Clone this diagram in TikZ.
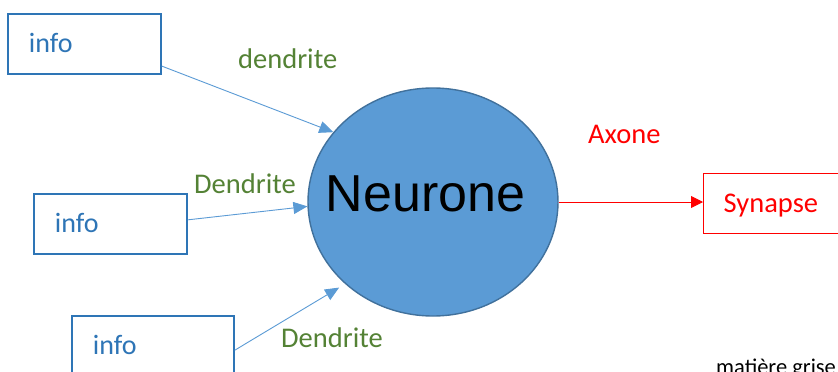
\documentclass[tikz,border=0pt]{standalone}
\usepackage{fontspec}
\setmainfont{Carlito}
\newfontfamily\arialfont{Liberation Sans}
\usetikzlibrary{arrows.meta,shapes.geometric}
\definecolor{boxblue}{RGB}{46,117,182}
\definecolor{arrowblue}{RGB}{91,155,213}
\definecolor{cellfill}{RGB}{91,155,213}
\definecolor{cellline}{RGB}{65,113,156}
\definecolor{dgreen}{RGB}{84,130,53}
\definecolor{myred}{RGB}{255,0,0}
\tikzset{
  infobox/.style={draw=boxblue, line width=1.8pt, anchor=north west, minimum height=60pt,
    inner xsep=21pt, inner ysep=0pt, align=left, text=boxblue, text height=22pt, text depth=4pt,
    font=\fontsize{28}{30}\selectfont},
  synbox/.style={draw=myred, line width=1.4pt, anchor=north west, minimum height=60pt,
    inner xsep=20pt, inner ysep=0pt, align=left, text=myred, text height=22pt, text depth=4pt,
    font=\fontsize{28.5}{30}\selectfont},
  neuron/.style={ellipse, draw=cellline, line width=1.4pt, fill=cellfill, minimum width=250pt, minimum height=228pt, inner sep=0pt},
  dend/.style={draw=arrowblue, line width=0.9pt, -{Triangle[length=14pt,width=12pt]}},
  axon/.style={draw=myred, line width=0.9pt, -{Triangle[length=12pt,width=12pt]}},
  glabel/.style={text=dgreen, anchor=base west, inner sep=0pt, font=\fontsize{28.5}{30}\selectfont},
  rlabel/.style={text=myred, anchor=base west, inner sep=0pt, font=\fontsize{28.5}{30}\selectfont},
}
\begin{document}
\begin{tikzpicture}[x=1pt,y=-1pt]
\clip (0,0) rectangle (838,372);
\fill[white] (0,0) rectangle (838,372);
% neuron
\node[neuron] (n) at (433,202) {};
\node[anchor=base, inner sep=0pt, font=\arialfont\fontsize{52}{56}\selectfont] (nt) at (425.5,211) {Neurone};
% info boxes
\node[infobox, text width=111pt] (b1) at (7,13) {info};
\node[infobox, text width=111pt] (b2) at (33,193) {info};
\node[infobox, text width=120pt] (b3) at (71,315) {info};
% synapse
\node[synbox, text width=99pt] (s) at (703,173) {Synapse};
% arrows
\draw[dend] (b1.-16.7) -- (n.145);
\draw[dend] (b2.3) -- (n.182);
\draw[dend, shorten >=7pt] (b3.-3) -- (n.223);
\draw[axon] (n.east) -- (n.east -| s.west);
% labels
\node[glabel] (l1) at (238,68) {dendrite};
\node[glabel] (l2) at (194,193) {Dendrite};
\node[glabel] (l3) at (281,347) {Dendrite};
\node[rlabel] (ax) at (588,143) {Axone};
\node[anchor=base west, inner sep=0pt, font=\fontsize{22.5}{24}\selectfont] (mg) at (716,374) {matière grise};
\end{tikzpicture}
\end{document}
